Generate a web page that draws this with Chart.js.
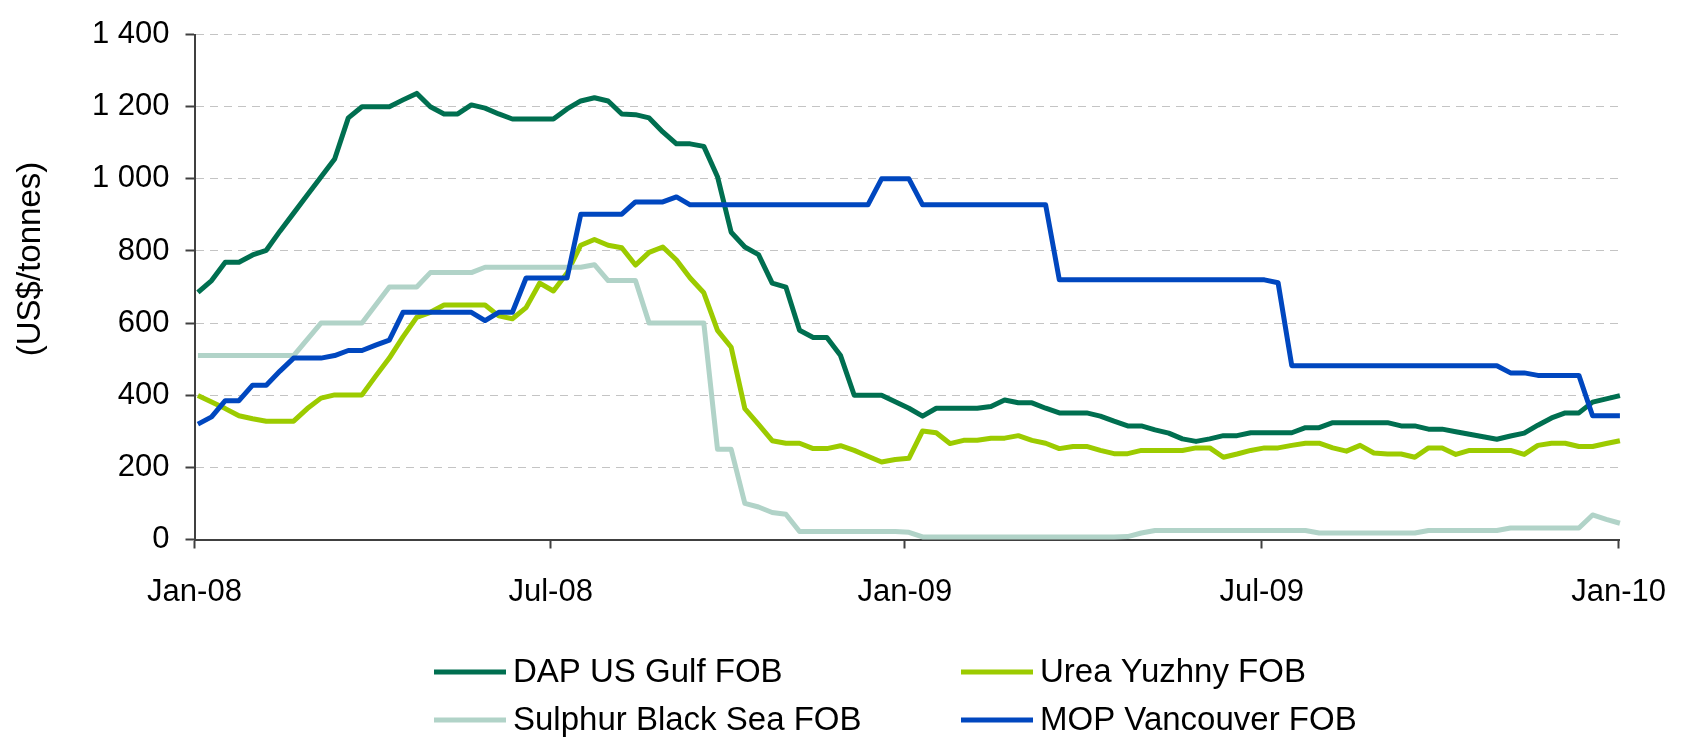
<!DOCTYPE html>
<html>
<head>
<meta charset="utf-8">
<script src="https://cdn.jsdelivr.net/npm/chart.js@4.4.0/dist/chart.umd.min.js"></script>
<style>
  html, body { margin: 0; padding: 0; background: #fff; }
  #wrap { width: 1691px; height: 739px; position: relative; }
</style>
</head>
<body>
<div id="wrap"><canvas id="grafico"></canvas></div>
<script>
// Precios semanales, ene-2008 a ene-2010 (US$/t)
const seriesNames = ['DAP US Gulf FOB', 'Urea Yuzhny FOB', 'Sulphur Black Sea FOB', 'MOP Vancouver FOB'];

const dap = [
  685, 718, 769, 769, 789, 802, 855, 905, 955, 1005, 1055, 1169, 1200, 1200, 1200, 1219, 1237, 1200,
  1180, 1180, 1205, 1196, 1180, 1166, 1166, 1166, 1166, 1194, 1216, 1225, 1216, 1180, 1178, 1169, 1130,
  1097, 1097, 1090, 1006, 852, 811, 790, 711, 700, 580, 560, 560, 510, 400, 400, 400, 382,
  364, 342, 364, 364, 364, 364, 369, 387, 379, 379, 364, 351, 351, 351, 342, 328, 315, 315,
  304, 295, 279, 272, 279, 288, 288, 296, 296, 296, 296, 310, 310, 324, 324, 324, 324,
  324, 315, 315, 306, 306, 299, 292, 285, 278, 287, 295, 317, 337, 351, 351, 381, 390, 399
];

const urea = [
  399, 381, 363, 343, 335, 328, 328, 328, 363, 392, 401, 401, 401, 453, 503, 562, 616, 630,
  650, 650, 650, 650, 620, 612, 643, 711, 689, 739, 816, 832, 816, 809, 761, 796, 811,
  775, 725, 684, 580, 533, 363, 319, 274, 267, 267, 252, 252, 260, 247, 231, 215, 222,
  225, 301, 296, 266, 275, 275, 281, 281, 288, 275, 267, 252, 258, 258, 247, 238, 238, 247,
  247, 247, 247, 254, 254, 228, 237, 247, 254, 254, 261, 267, 267, 254, 245, 261, 240,
  237, 237, 228, 254, 254, 236, 247, 247, 247, 247, 236, 261, 267, 267, 258, 258, 266, 274
];

const sulphur = [
  510, 510, 510, 510, 510, 510, 510, 510, 555, 600, 600, 600, 600, 650, 700, 700, 700, 740,
  740, 740, 740, 755, 755, 755, 755, 755, 755, 755, 755, 762, 718, 718, 718, 600, 600,
  600, 600, 600, 250, 250, 100, 90, 75, 70, 22, 22, 22, 22, 22, 22, 22, 22,
  20, 7, 7, 7, 7, 7, 7, 7, 7, 7, 7, 7, 7, 7, 7, 7, 8, 18,
  25, 25, 25, 25, 25, 25, 25, 25, 25, 25, 25, 25, 18, 18, 18, 18, 18,
  18, 18, 18, 25, 25, 25, 25, 25, 25, 32, 32, 32, 32, 32, 32, 68, 56, 45
];

const mop = [
  320, 340, 385, 385, 428, 428, 467, 503, 503, 503, 510, 524, 524, 539, 553, 630, 630, 630,
  630, 630, 630, 607, 630, 630, 725, 725, 725, 725, 902, 902, 902, 902, 936, 936, 936,
  950, 928, 928, 928, 928, 928, 928, 928, 928, 928, 928, 928, 928, 928, 928, 1000, 1000,
  1000, 928, 928, 928, 928, 928, 928, 928, 928, 928, 928, 720, 720, 720, 720, 720, 720, 720,
  720, 720, 720, 720, 720, 720, 720, 720, 720, 712, 482, 482, 482, 482, 482, 482, 482,
  482, 482, 482, 482, 482, 482, 482, 482, 482, 462, 462, 455, 455, 455, 455, 343, 343, 343
];

const colores = ['#006F50', '#9CCB00', '#B1D3C8', '#0047BF'];

// posiciones del eje x en semanas (0 = primera semana)
const tickWeeks = [-0.25, 25.8, 51.7, 77.8, 103.9];
const tickLabels = ['Jan-08', 'Jul-08', 'Jan-09', 'Jul-09', 'Jan-10'];
const yTitle = '(US$/tonnes)';

const FONT = '"Liberation Sans", Arial, Helvetica, sans-serif';
Chart.defaults.font.family = FONT;
Chart.defaults.color = '#000';

function toPoints(valores) {
  return valores.map((v, i) => ({ x: i, y: v }));
}

function fmtMiles(v) {
  if (v < 1000) return String(v);
  return Math.floor(v / 1000) + ' ' + String(v % 1000).padStart(3, '0');
}

// leyenda en dos columnas y titulo del eje y
const extrasPlugin = {
  id: 'extras',
  afterDraw(chart) {
    const ctx = chart.ctx;
    ctx.save();
    const colX = [434, 961];
    const rowY = [672, 720];
    chart.data.datasets.forEach((ds, k) => {
      const x0 = colX[k % 2];
      const y = rowY[Math.floor(k / 2)];
      ctx.strokeStyle = ds.borderColor;
      ctx.lineWidth = 5;
      ctx.beginPath();
      ctx.moveTo(x0, y);
      ctx.lineTo(x0 + 72, y);
      ctx.stroke();
      ctx.fillStyle = '#000';
      ctx.font = '33px ' + FONT;
      ctx.textAlign = 'left';
      ctx.textBaseline = 'middle';
      ctx.fillText(ds.label, x0 + 79, y + 1);
    });

    ctx.translate(31, 259);
    ctx.rotate(-Math.PI / 2);
    ctx.font = '33px ' + FONT;
    ctx.textAlign = 'center';
    ctx.textBaseline = 'middle';
    ctx.fillText(yTitle, 0, 0);
    ctx.restore();
  }
};

const series = [dap, urea, sulphur, mop];

new Chart(document.getElementById('grafico'), {
  type: 'line',
  data: {
    datasets: series.map((valores, k) => ({
      label: seriesNames[k],
      data: toPoints(valores),
      borderColor: colores[k],
      backgroundColor: colores[k],
      borderWidth: 5,
      pointRadius: 0,
      tension: 0,
      borderJoinStyle: 'round',
      clip: false,
      order: series.length - k
    }))
  },
  options: {
    responsive: true,
    maintainAspectRatio: false,
    animation: false,
    layout: { padding: { left: 0, top: 25, right: 61.6, bottom: 0 } },
    plugins: {
      legend: { display: false },
      tooltip: { enabled: false }
    },
    scales: {
      x: {
        type: 'linear',
        min: -0.25,
        max: 104,
        afterBuildTicks: axis => {
          axis.ticks = tickWeeks.map(v => ({ value: v }));
        },
        afterFit: s => { s.height = 199.5; },
        ticks: {
          autoSkip: false,
          maxRotation: 0,
          padding: 25,
          font: { size: 31 },
          color: '#000',
          callback: (value, index) => tickLabels[index]
        },
        grid: {
          drawOnChartArea: false,
          drawTicks: true,
          tickLength: 9,
          tickColor: '#404040',
          tickWidth: 2
        },
        border: { display: true, color: '#404040', width: 2 }
      },
      y: {
        min: 0,
        max: 1400,
        afterFit: s => { s.width = 194.5; },
        ticks: {
          stepSize: 200,
          padding: 16,
          font: { size: 31 },
          color: '#000',
          callback: v => fmtMiles(v)
        },
        grid: {
          color: '#C4C4C4',
          lineWidth: 1,
          drawTicks: true,
          tickLength: 9,
          tickColor: '#404040',
          tickWidth: 2
        },
        border: { display: true, color: '#404040', width: 2, dash: [8, 6] }
      }
    }
  },
  plugins: [extrasPlugin]
});
</script>
</body>
</html>
